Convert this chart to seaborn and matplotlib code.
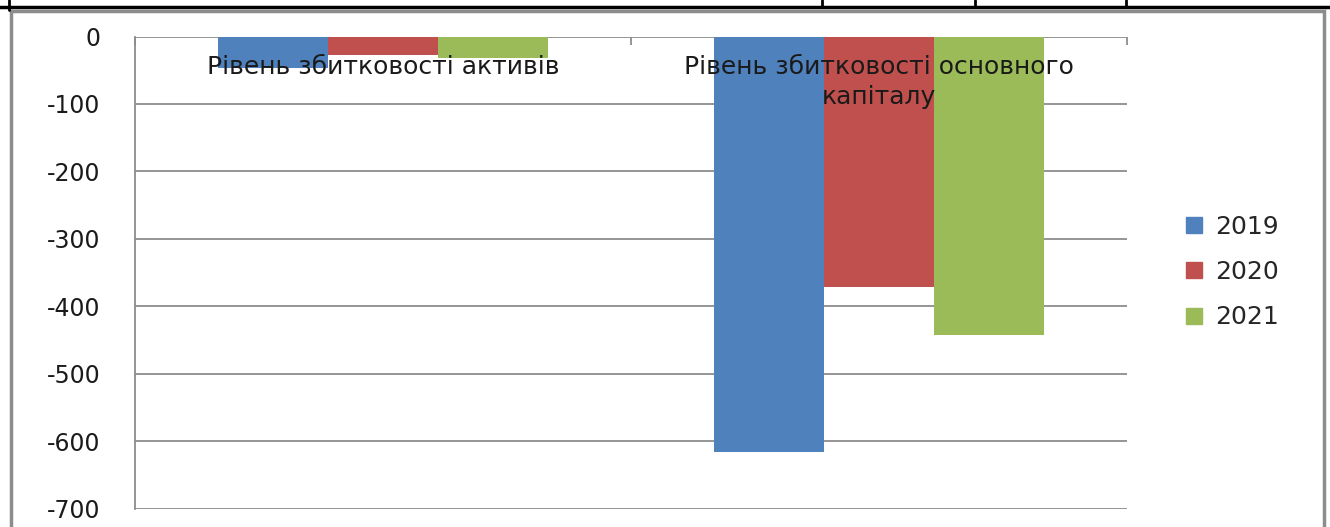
import numpy as np
import pandas as pd
import matplotlib
matplotlib.use("Agg")
import matplotlib.pyplot as plt
from matplotlib.patches import Rectangle
from matplotlib.lines import Line2D
import seaborn as sns

# data
categories = ["Рівень збитковості активів", "Рівень збитковості основного капіталу"]
cat_labels = ["Рівень збитковості активів", "Рівень збитковості основного\nкапіталу"]
years = ["2019", "2020", "2021"]
val_2019 = [-47, -616]
val_2020 = [-28, -372]
val_2021 = [-32, -442]
yticks = [0, -100, -200, -300, -400, -500, -600, -700]
colors = ["#4F81BD", "#C0504D", "#9BBB59"]

df = pd.DataFrame({
    "cat": categories * 3,
    "year": [y for y in years for _ in categories],
    "value": val_2019 + val_2020 + val_2021,
})

sns.set_style("white")
plt.rcParams["font.family"] = ["DejaVu Sans"]

W, H = 1330, 527
fig = plt.figure(figsize=(W / 100, H / 100), dpi=100)
fig.patch.set_facecolor("white")

# table borders above the chart + chart frame
fig.add_artist(Line2D([0, 1], [1 - 6.5 / H, 1 - 6.5 / H], color="black", lw=2.5))
for xv in [822, 975, 1126]:
    fig.add_artist(Line2D([xv / W, xv / W], [1, 1 - 7 / H], color="black", lw=2))
fig.add_artist(Line2D([9 / W, 9 / W], [1, 1 - 10 / H], color="black", lw=2))
fig.add_artist(Rectangle((11 / W, -0.05), (1324 - 11) / W, 1.05 - 11 / H,
                         transform=fig.transFigure, fill=False,
                         edgecolor="#8c8c8c", lw=2.5))

ax = fig.add_axes([135 / W, (H - 508.5) / H, (1127 - 135) / W, (508.5 - 36.5) / H])
sns.barplot(data=df, x="cat", y="value", hue="year", palette=colors,
            width=0.665, saturation=1, ax=ax, order=categories, hue_order=years)
for p in ax.patches:
    p.set_edgecolor("none")

ax.set_ylim(-700, 0)
ax.set_xlim(-0.5, 1.5)
ax.set_yticks(yticks)
ax.set_yticklabels([str(v) for v in yticks], fontsize=17, color="#1a1a1a")
ax.yaxis.grid(True, color="#8c8c8c", lw=1.3)
ax.set_axisbelow(True)
ax.set_xlabel("")
ax.set_ylabel("")
for s in ["top", "right", "bottom"]:
    ax.spines[s].set_visible(False)
ax.spines["left"].set_color("#8c8c8c")
ax.spines["left"].set_linewidth(1.3)
ax.tick_params(axis="y", direction="out", length=11, width=1.3, color="#8c8c8c", pad=14)
ax.xaxis.set_ticks_position("top")
ax.set_xticks([-0.5, 0.5, 1.5])
ax.set_xticklabels([])
ax.tick_params(axis="x", direction="in", length=6, width=1.3, color="#8c8c8c")

for i, lab in enumerate(cat_labels):
    ax.text(i, -27, lab, ha="center", va="top", fontsize=18, color="#1a1a1a",
            linespacing=1.32)

ax.legend_.remove()
fig.legend([Line2D([], [], marker="s", ls="none", markersize=12, color=c) for c in colors],
           years, loc="center left", bbox_to_anchor=(1156 / W, 1 - 272 / H),
           frameon=False, fontsize=18, handletextpad=0.25, labelspacing=0.85,
           handlelength=1.2)

fig.savefig("out.png", dpi=100)
